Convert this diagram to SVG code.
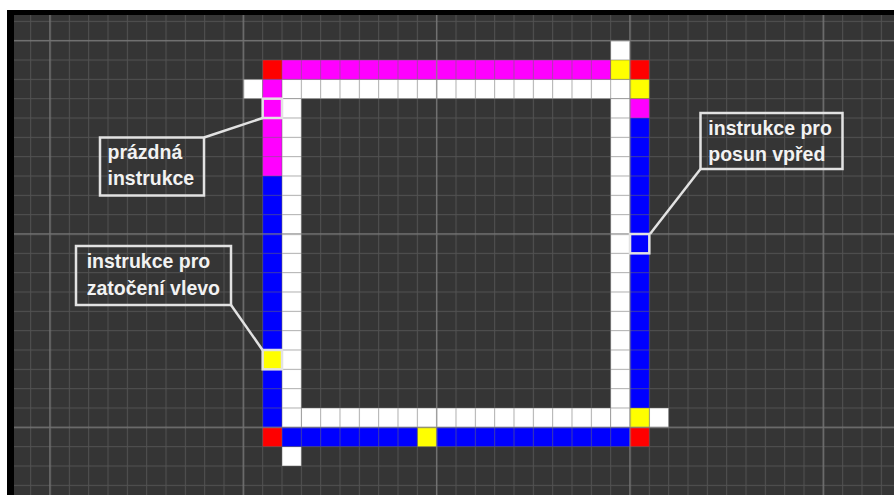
<svg xmlns="http://www.w3.org/2000/svg" width="894" height="495" viewBox="0 0 894 495">
<defs>
<style>
.w{fill:#ffffff}.r{fill:#ff0000}.m{fill:#ff00ff}.y{fill:#ffff00}.b{fill:#0000ff}
.hl{fill:none;stroke:#e2e2e2;stroke-width:2.5}
.box{fill:none;stroke:#e2e2e2;stroke-width:2.5}
.con{stroke:#e2e2e2;stroke-width:2.5;fill:none}
.t{font-family:"Liberation Sans",Arial,sans-serif;font-weight:bold;font-size:19.5px;fill:#f2f2f2}
</style>
<pattern id="minor" patternUnits="userSpaceOnUse" x="49.5" y="40.167" width="19.3333" height="19.3333">
<rect width="19.3333" height="1" fill="#6a6a6a" fill-opacity="0.55"/>
<rect y="1" width="1" height="18.3333" fill="#6a6a6a" fill-opacity="0.55"/>
</pattern>
<pattern id="major" patternUnits="userSpaceOnUse" x="49.25" y="39.917" width="193.3333" height="193.3333">
<rect width="193.3333" height="1.5" fill="#8a8a8a" fill-opacity="0.6"/>
<rect y="1.5" width="1.5" height="191.8333" fill="#8a8a8a" fill-opacity="0.6"/>
</pattern>
</defs>
<rect width="894" height="495" fill="#ffffff"/>
<rect x="7" y="10" width="887" height="485" fill="#000000"/>
<rect x="14" y="15" width="880" height="480" fill="#353535"/>
<g id="cells" transform="translate(50 40.667) scale(19.3333)">
<g class="w">
<rect x="29" y="0" width="1" height="1"/>
<rect x="10" y="2" width="1" height="1"/>
<rect x="12" y="2" width="18" height="1"/>
<rect x="12" y="3" width="1" height="17"/>
<rect x="29" y="3" width="1" height="17"/>
<rect x="13" y="19" width="16" height="1"/>
<rect x="31" y="19" width="1" height="1"/>
<rect x="12" y="21" width="1" height="1"/>
</g>
<g class="r">
<rect x="11" y="1" width="1" height="1"/>
<rect x="30" y="1" width="1" height="1"/>
<rect x="11" y="20" width="1" height="1"/>
<rect x="30" y="20" width="1" height="1"/>
</g>
<g class="m">
<rect x="12" y="1" width="17" height="1"/>
<rect x="11" y="2" width="1" height="5"/>
<rect x="30" y="3" width="1" height="1"/>
</g>
<g class="y">
<rect x="29" y="1" width="1" height="1"/>
<rect x="30" y="2" width="1" height="1"/>
<rect x="11" y="16" width="1" height="1"/>
<rect x="30" y="19" width="1" height="1"/>
<rect x="19" y="20" width="1" height="1"/>
</g>
<g class="b">
<rect x="11" y="7" width="1" height="9"/>
<rect x="11" y="17" width="1" height="3"/>
<rect x="30" y="4" width="1" height="15"/>
<rect x="12" y="20" width="7" height="1"/>
<rect x="20" y="20" width="10" height="1"/>
</g>
</g>
<g id="grid">
<rect x="14" y="15" width="880" height="480" fill="url(#minor)"/>
<rect x="14" y="15" width="880" height="480" fill="url(#major)"/>
</g>
<g id="highlights">
<rect class="hl" x="262.67" y="98.67" width="19.33" height="19.33"/>
<rect class="hl" x="630" y="234" width="19.33" height="19.33"/>
<rect class="hl" x="262.67" y="350" width="19.33" height="19.33"/>
</g>
<g id="connectors">
<line class="con" x1="204" y1="137.5" x2="262.7" y2="118"/>
<line class="con" x1="700.5" y1="169" x2="650" y2="234"/>
<line class="con" x1="231" y1="305" x2="262.7" y2="350.2"/>
</g>
<g id="callout-prazdna">
<rect class="box" x="100" y="137.5" width="104" height="58"/>
<text class="t" x="107.5" y="158.7">prázdná</text>
<text class="t" x="107.5" y="185.3">instrukce</text>
</g>
<g id="callout-posun">
<rect class="box" x="700.5" y="113" width="142" height="56"/>
<text class="t" x="708.3" y="134.7">instrukce pro</text>
<text class="t" x="708.3" y="161.3">posun vpřed</text>
</g>
<g id="callout-zatoceni">
<rect class="box" x="76" y="246" width="155" height="59"/>
<text class="t" x="86.7" y="268">instrukce pro</text>
<text class="t" x="86.7" y="295">zatočení vlevo</text>
</g>
</svg>
